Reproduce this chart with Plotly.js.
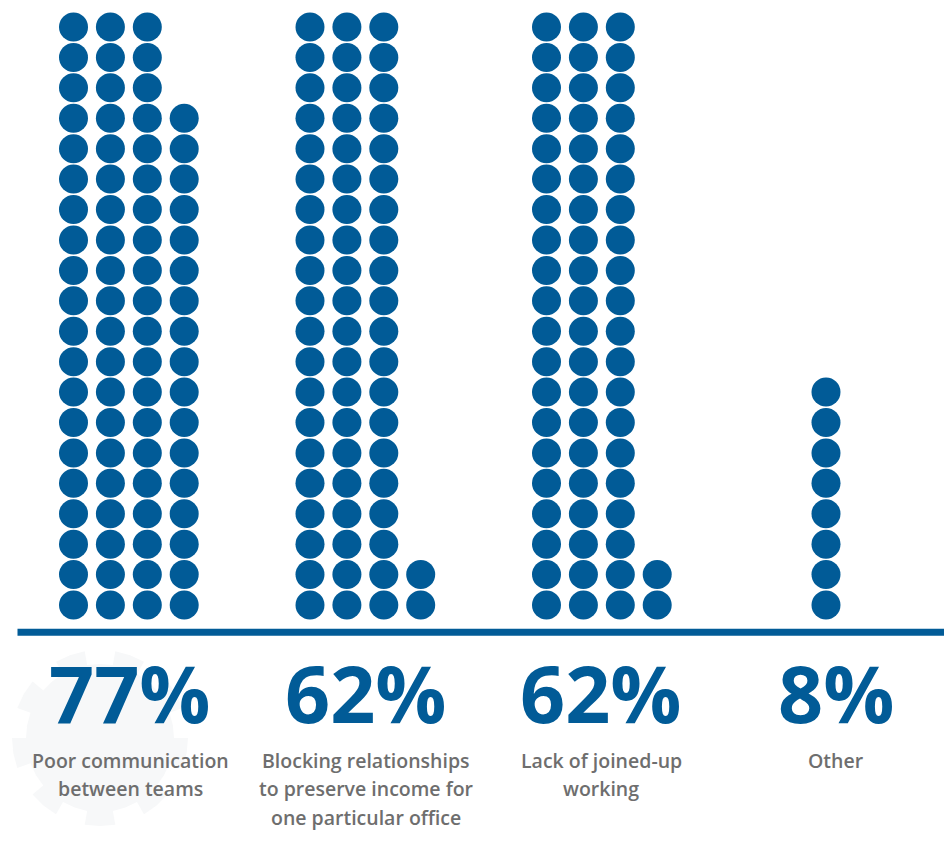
<!DOCTYPE html>
<html>
<head>
<meta charset="utf-8">
<script src="https://cdn.plot.ly/plotly-3.0.1.min.js"></script>
<style>
  html, body { margin: 0; padding: 0; background: #ffffff; }
  #chart { width: 944px; height: 847px; }
</style>
</head>
<body>
<div id="chart"></div>
<script>
// ---- data ----
const categories = [
  "Poor communication<br>between teams",
  "Blocking relationships<br>to preserve income for<br>one particular office",
  "Lack of joined-up<br>working",
  "Other"
];
const percentValues = [77, 62, 62, 8];
const percentLabels = ["77%", "62%", "62%", "8%"];

// ---- layout constants (pixels) ----
const W = 944, H = 847;
const DOTS_PER_COL = 20;
const GROUP_LEFT = [73.5, 310, 546.5, 826];   // x of first column in each group
const LABEL_CENTER = [130, 366, 601, 836];     // x of text block centres
const COL_STEP = 36.9;
const ROW_STEP = 30.42;
const BASE_ROW_PX = 605;                       // y of bottom row of dots
const BLUE = "#015B97";
const GREY = "#6e6e6e";

// y axis in "row" units so that each dot sits on an integer row
const yTop = BASE_ROW_PX / ROW_STEP;
const yBottom = -(H - BASE_ROW_PX) / ROW_STEP;
const py = px => 1 - px / H;       // pixel -> paper (y)
const px2x = px => px / W;         // pixel -> paper (x)

// build dots from the values
const dotX = [], dotY = [], dotText = [];
percentValues.forEach((v, g) => {
  for (let i = 0; i < v; i++) {
    const col = Math.floor(i / DOTS_PER_COL);
    const row = i % DOTS_PER_COL;
    dotX.push(GROUP_LEFT[g] + col * COL_STEP);
    dotY.push(row);
    dotText.push(categories[g].replace(/<br>/g, " ") + ": " + percentLabels[g]);
  }
});

const traces = [{
  type: "scatter",
  mode: "markers",
  x: dotX,
  y: dotY,
  text: dotText,
  hoverinfo: "text",
  marker: { size: 29, color: BLUE, line: { width: 0 } }
}];

// faint gear watermark (decoration)
function gearPath(cx, cy, rOuter, rInner, teeth) {
  let d = "";
  const n = teeth * 4;
  for (let k = 0; k < n; k++) {
    const a0 = (k / n) * 2 * Math.PI;
    const r = (k % 4 === 0 || k % 4 === 1) ? rOuter : rInner;
    const a1 = ((k + 1) / n) * 2 * Math.PI;
    const pts = [[cx + r * Math.cos(a0), cy + r * Math.sin(a0)], [cx + r * Math.cos(a1), cy + r * Math.sin(a1)]];
    pts.forEach((p, j) => {
      const s = (k === 0 && j === 0) ? "M" : "L";
      d += s + px2x(p[0]).toFixed(5) + "," + py(p[1]).toFixed(5) + " ";
    });
  }
  return d + "Z";
}

const annotations = [];
percentLabels.forEach((t, g) => {
  annotations.push({
    xref: "paper", yref: "paper",
    x: px2x(LABEL_CENTER[g]), y: py(692),
    xanchor: "center", yanchor: "middle",
    text: t, showarrow: false,
    font: { family: "Open Sans, sans-serif", size: 79, color: BLUE, weight: 700 }
  });
  const lines = categories[g].split("<br>");
  lines.forEach((line, li) => {
    annotations.push({
      xref: "paper", yref: "paper",
      x: px2x(LABEL_CENTER[g]), y: py(760 + li * 28.6),
      xanchor: "center", yanchor: "middle",
      text: line, showarrow: false,
      font: { family: "Open Sans, sans-serif", size: 19.5, color: GREY, weight: 600 }
    });
  });
});

const layout = {
  width: W, height: H,
  margin: { l: 0, r: 0, t: 0, b: 0, pad: 0 },
  paper_bgcolor: "#ffffff",
  plot_bgcolor: "#ffffff",
  showlegend: false,
  xaxis: { range: [0, W], visible: false, fixedrange: true },
  yaxis: { range: [yBottom, yTop], visible: false, fixedrange: true },
  shapes: [
    {
      type: "path", xref: "paper", yref: "paper", layer: "below",
      path: gearPath(100, 738, 88, 74, 9),
      fillcolor: "#f7f8f9", line: { width: 0 }
    },
    {
      type: "line", xref: "paper", yref: "paper", layer: "below",
      x0: px2x(17.5), x1: 1, y0: py(632.3), y1: py(632.3),
      line: { color: BLUE, width: 7 }
    }
  ],
  annotations: annotations
};

Plotly.newPlot("chart", traces, layout, { displayModeBar: false, staticPlot: false });
</script>
</body>
</html>
